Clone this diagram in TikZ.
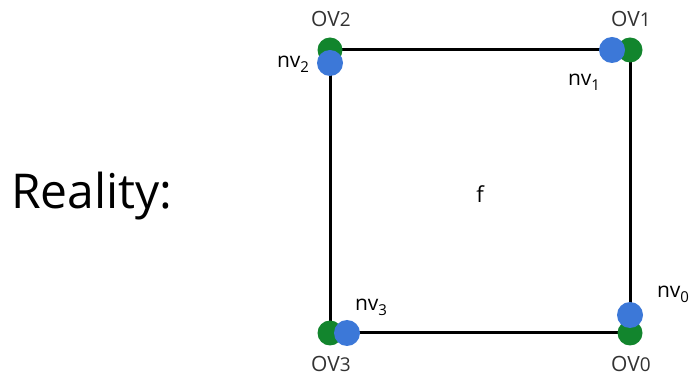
\documentclass[tikz,border=0pt]{standalone}
\usepackage{fontspec}
\setmainfont{Open Sans}
\definecolor{ovgreen}{RGB}{18,133,45}
\definecolor{nvblue}{RGB}{60,120,216}
\definecolor{ovgray}{RGB}{50,50,50}
\newcommand{\nvsub}[1]{\raisebox{-0.45ex}{\fontsize{15}{18}\selectfont #1}}
\begin{document}
\begin{tikzpicture}[x=1pt,y=-1pt,
  gdot/.style={circle,fill=ovgreen,minimum size=25pt,inner sep=0pt},
  bdot/.style={circle,fill=nvblue,minimum size=26pt,inner sep=0pt},
  ovlab/.style={text=ovgray,font=\fontsize{21}{24}\selectfont,inner sep=0pt},
  nvlab/.style={text=black,font=\fontsize{21}{24}\selectfont,inner sep=0pt},
  edge/.style={line width=3pt}]
\useasboundingbox (0,0) rectangle (694,379);
\coordinate (c2) at (330,50);
\coordinate (c1) at (630,50);
\coordinate (c3) at (330,333);
\coordinate (c0) at (630,333);
\draw[edge] (c2) -- (c1) -- (c0) -- (c3) -- cycle;
\node[gdot] (g2) at (c2) {};
\node[gdot] (g1) at (c1) {};
\node[gdot] (g3) at (c3) {};
\node[gdot] (g0) at (c0) {};
\node[bdot] (b2) at (330,63) {};
\node[bdot] (b1) at (612,50) {};
\node[bdot] (b3) at (347,333) {};
\node[bdot] (b0) at (630,315) {};
\node[ovlab] (o2) at (331,19) {OV{\fontsize{19}{22}\selectfont 2}};
\node[ovlab] (o1) at (631,19) {OV{\fontsize{19}{22}\selectfont 1}};
\node[ovlab] (o3) at (331,364) {OV{\fontsize{19}{22}\selectfont 3}};
\node[ovlab] (o0) at (631,364) {OV{\fontsize{19}{22}\selectfont 0}};
\node[nvlab] (n2) at (293,64) {nv\nvsub{2}};
\node[nvlab] (n1) at (584,82) {nv\nvsub{1}};
\node[nvlab] (n3) at (371,307) {nv\nvsub{3}};
\node[nvlab] (n0) at (673,294) {nv\nvsub{0}};
\node[text=black,font=\fontsize{22}{26}\selectfont,inner sep=0pt] (f) at (480,194) {f};
\node[text=black,font=\fontsize{48}{56}\selectfont,anchor=west,inner sep=0pt] (r) at (11,196) {Reality:};
\end{tikzpicture}
\end{document}
